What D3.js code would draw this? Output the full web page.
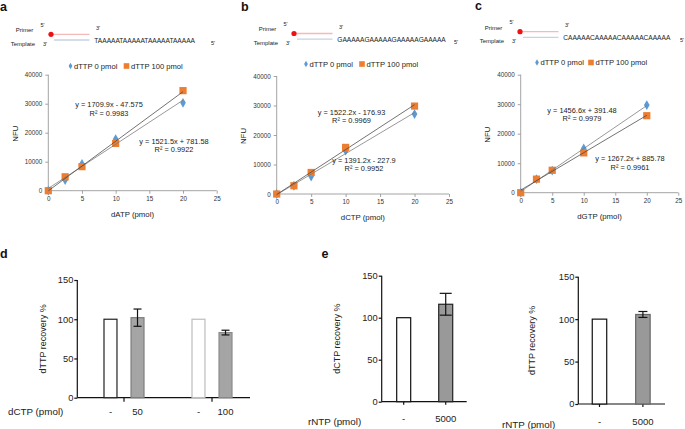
<!DOCTYPE html>
<html><head><meta charset="utf-8">
<script src="https://cdn.jsdelivr.net/npm/d3@7"></script>
<style>
body{margin:0;background:#fff}
svg{display:block}
text{font-family:"Liberation Sans",Arial,Helvetica,sans-serif}
</style>
</head><body>
<svg id="fig" width="685" height="429"></svg>
<script>
// ---------------- DATA ----------------
const panelLetters = ["a", "b", "c", "d", "e"];
const templateSeqs = ["TAAAAATAAAAATAAAAATAAAAA", "GAAAAAGAAAAAGAAAAAGAAAAA", "CAAAAACAAAAACAAAAACAAAAA"];
const scatterX = [0, 2.5, 5, 10, 20];
const seriesNames = ["dTTP 0 pmol", "dTTP 100 pmol"];
const aDTTP0   = [0, 3700, 9200, 17800, 30300];
const aDTTP100 = [0, 4800, 8300, 16300, 34500];
const bDTTP0   = [0, 2800, 5900, 14700, 27100];
const bDTTP100 = [0, 2800, 7300, 15800, 29800];
const cDTTP0   = [0, 4600, 7500, 15000, 29700];
const cDTTP100 = [0, 4600, 7600, 13500, 26100];
const scatterXTitles = ["dATP (pmol)", "dCTP (pmol)", "dGTP (pmol)"];
const scatterYTitle = "NFU";
const scatterXTicks = [0, 5, 10, 15, 20, 25];
const scatterYTicks = [0, 10000, 20000, 30000, 40000];
// trendlines [dTTP 0, dTTP 100]
const aSlopes = [1521.5, 1709.9], aIntercepts = [781.58, -47.575], aEq = ["y = 1521.5x + 781.58", "y = 1709.9x - 47.575"], aR2 = ["R² = 0.9922", "R² = 0.9983"];
const bSlopes = [1391.2, 1522.2], bIntercepts = [-227.9, -176.93], bEq = ["y = 1391.2x - 227.9", "y = 1522.2x - 176.93"], bR2 = ["R² = 0.9952", "R² = 0.9969"];
const cSlopes = [1456.6, 1267.2], cIntercepts = [391.48, 885.78], cEq = ["y = 1456.6x + 391.48", "y = 1267.2x + 885.78"], cR2 = ["R² = 0.9979", "R² = 0.9961"];

const barYTicks = [0, 50, 100, 150];
const dGroups = ["50", "100"];
const dCats = [["-", "50"], ["-", "100"]];
const dValues = [[100, 102], [100, 83]];
const dErrors = [[0, 11], [0, 3]];
const dXTitle = "dCTP (pmol)", dYTitle = "dTTP recovery %";
const eCats = ["-", "5000"];
const eDCTP = [100, 116], eDCTPErr = [0, 13];
const eDTTP = [100, 105.5], eDTTPErr = [0, 3.5];
const eXTitle = "rNTP (pmol)", eYTitles = ["dCTP recovery %", "dTTP recovery %"];

// ---------------- STYLE / LAYOUT ----------------
const BLUE = "#5b9bd5", ORANGE = "#ed7d31";
const svg = d3.select("#fig");

function letter(t, x, y) {
  svg.append("text").attr("x", x).attr("y", y).attr("font-size", 12.5).attr("font-weight", "bold").attr("fill", "#111").text(t);
}

// primer/template schematic
function schematic(seq, ox, oy) {
  const g = svg.append("g").attr("transform", `translate(${ox},${oy})`);
  const t = (x, y, s, fs, anchor) => g.append("text").attr("x", x).attr("y", y).attr("font-size", fs)
      .attr("text-anchor", anchor || "start").attr("fill", "#222").text(s);
  t(33.3, 32.2, "Primer", 6, "end");
  t(35, 45.5, "Template", 6, "end");
  t(40.5, 27, "5'", 5.5);
  t(43, 45.5, "3'", 5.5);
  g.append("line").attr("x1", 51).attr("x2", 89.5).attr("y1", 34.3).attr("y2", 34.3).attr("stroke", "#f6b9b9").attr("stroke-width", 1.3);
  g.append("line").attr("x1", 54).attr("x2", 89.5).attr("y1", 40).attr("y2", 40).attr("stroke", "#c6d3e2").attr("stroke-width", 1.3);
  g.append("circle").attr("cx", 51).attr("cy", 34.3).attr("r", 2.6).attr("fill", "#ee1111");
  t(96, 29.5, "3'", 5.5);
  t(94.3, 43, seq, 6.6);
  t(211, 44.5, "5'", 5.5);
}

function scatterPanel(cfg) {
  const x = d3.scaleLinear().domain([0, 25]).range([cfg.xl, cfg.xr]);
  const y = d3.scaleLinear().domain([0, 40000]).range([cfg.yb, cfg.yt]);
  const g = svg.append("g");
  const ax = g.append("g").attr("transform", `translate(0,${cfg.yb})`)
    .call(d3.axisBottom(x).tickValues(scatterXTicks).tickSize(3).tickPadding(3).tickFormat(d3.format("d")));
  const ay = g.append("g").attr("transform", `translate(${cfg.xl},0)`)
    .call(d3.axisLeft(y).tickValues(scatterYTicks).tickSize(3).tickPadding(3).tickFormat(d3.format("d")));
  [ax, ay].forEach(a => {
    a.select(".domain").attr("stroke", "#9a9a9a").attr("stroke-width", 0.9);
    a.selectAll(".tick line").attr("stroke", "#9a9a9a").attr("stroke-width", 0.9);
    a.selectAll("text").attr("font-size", 6.3).attr("fill", "#333").attr("font-family", '"Liberation Sans",Arial,sans-serif');
  });
  ay.select(".domain").attr("d", `M0,${cfg.yt}V${cfg.yb}`);
  ax.select(".domain").attr("d", `M${cfg.xl},0H${cfg.xr}`);
  g.append("text").attr("x", (cfg.xl + cfg.xr) / 2).attr("y", cfg.yb + 26).attr("text-anchor", "middle")
    .attr("font-size", 7.8).attr("fill", "#222").text(cfg.xTitle);
  g.append("text").attr("transform", `translate(${cfg.xl - 33},${(cfg.yt + cfg.yb) / 2 + 1}) rotate(-90)`)
    .attr("text-anchor", "middle").attr("dy", "0.35em").attr("font-size", 7.8).attr("fill", "#222").text(scatterYTitle);

  const series = [cfg.s0, cfg.s1];
  // markers
  g.selectAll(".d0").data(scatterX.map((v, i) => [v, series[0][i]])).join("path")
    .attr("transform", d => `translate(${x(d[0])},${y(d[1])})`)
    .attr("d", d3.symbol(d3.symbolDiamond, 28)).attr("fill", BLUE);
  g.selectAll(".d1").data(scatterX.map((v, i) => [v, series[1][i]])).join("rect")
    .attr("x", d => x(d[0]) - 3.6).attr("y", d => y(d[1]) - 3.6).attr("width", 7.2).attr("height", 7.2).attr("fill", ORANGE);
  // trendlines
  [0, 1].forEach(k => {
    g.append("line").attr("x1", x(0)).attr("y1", y(cfg.b[k])).attr("x2", x(20)).attr("y2", y(cfg.m[k] * 20 + cfg.b[k]))
      .attr("stroke", k === 0 ? "#777" : "#444").attr("stroke-width", 0.75);
  });
  // equation labels
  [0, 1].forEach(k => {
    const p = cfg.eqPos[k];
    g.append("text").attr("x", p[0]).attr("y", p[1]).attr("text-anchor", "middle").attr("font-size", 7.4).attr("fill", "#222").text(cfg.eq[k]);
    g.append("text").attr("x", p[0]).attr("y", p[1] + 8.5).attr("text-anchor", "middle").attr("font-size", 7.4).attr("fill", "#222").text(cfg.r2[k]);
  });
  // legend
  const ly = cfg.legY;
  g.append("path").attr("transform", `translate(${cfg.leg[0]},${ly})`).attr("d", d3.symbol(d3.symbolDiamond, 12)).attr("fill", BLUE);
  g.append("text").attr("x", cfg.leg[0] + 3.5).attr("y", ly + 2.6).attr("font-size", 7.6).attr("fill", "#222").text(seriesNames[0]);
  g.append("rect").attr("x", cfg.leg[1] - 2.8).attr("y", ly - 2.8).attr("width", 5.6).attr("height", 5.6).attr("fill", ORANGE);
  g.append("text").attr("x", cfg.leg[1] + 4.5).attr("y", ly + 2.6).attr("font-size", 7.6).attr("fill", "#222").text(seriesNames[1]);
}

function styleBarAxis(a) {
  a.select(".domain").attr("stroke", "#111").attr("stroke-width", 1.2);
  a.selectAll(".tick line").attr("stroke", "#111").attr("stroke-width", 1.2);
  a.selectAll("text").attr("font-size", 9.3).attr("fill", "#222").attr("font-family", '"Liberation Sans",Arial,sans-serif');
}

function barYAxis(g, cfg, yTitle) {
  const y = d3.scaleLinear().domain([0, 150]).range([cfg.yb, cfg.yt]);
  const ay = g.append("g").attr("transform", `translate(${cfg.xl},0)`)
    .call(d3.axisLeft(y).tickValues(barYTicks).tickSize(3).tickPadding(1));
  styleBarAxis(ay);
  ay.select(".domain").attr("d", `M0,${cfg.yt}V${cfg.yb}`);
  g.append("text").attr("transform", `translate(${cfg.ylabX},${(cfg.yt + cfg.yb) / 2}) rotate(-90)`)
    .attr("text-anchor", "middle").attr("dy", "0.35em").attr("font-size", 9).attr("fill", "#222").text(yTitle);
  return y;
}

function errBar(g, cx, y, v, e, cap) {
  if (!e) return;
  g.append("line").attr("x1", cx).attr("x2", cx).attr("y1", y(v - e)).attr("y2", y(v + e)).attr("stroke", "#111").attr("stroke-width", 1.2);
  [v - e, v + e].forEach(t => g.append("line").attr("x1", cx - cap / 2).attr("x2", cx + cap / 2).attr("y1", y(t)).attr("y2", y(t)).attr("stroke", "#111").attr("stroke-width", 1.2));
}

// ---------------- PANELS a-c ----------------
letter(panelLetters[0], 0, 10.5);
letter(panelLetters[1], 241, 10.5);
letter(panelLetters[2], 475, 10);
schematic(templateSeqs[0], 0, 0);
schematic(templateSeqs[1], 243, -0.8);
schematic(templateSeqs[2], 469, -2.6);

scatterPanel({xl: 48.3, xr: 216.7, yb: 190.7, yt: 74.7, xTitle: scatterXTitles[0], s0: aDTTP0, s1: aDTTP100,
  m: aSlopes, b: aIntercepts, eq: aEq, r2: aR2, eqPos: [[174, 143.5], [109, 107]], legY: 66, leg: [70.5, 126.5]});
scatterPanel({xl: 276.7, xr: 449, yb: 194, yt: 76, xTitle: scatterXTitles[1], s0: bDTTP0, s1: bDTTP100,
  m: bSlopes, b: bIntercepts, eq: bEq, r2: bR2, eqPos: [[364, 162.5], [351.5, 114.5]], legY: 64, leg: [306, 362]});
scatterPanel({xl: 520.7, xr: 678.3, yb: 192.7, yt: 74.7, xTitle: scatterXTitles[2], s0: cDTTP0, s1: cDTTP100,
  m: cSlopes, b: cIntercepts, eq: cEq, r2: cR2, eqPos: [[582, 112.5], [630, 161]], legY: 62.5, leg: [537, 591]});

// ---------------- PANEL d ----------------
letter(panelLetters[3], 0, 258.3);
(function () {
  const cfg = {xl: 77.3, xr: 250, yb: 397.7, yt: 280, ylabX: 43};
  const g = svg.append("g");
  const y = barYAxis(g, cfg, dYTitle);
  const gx = d3.scaleBand().domain(dGroups).range([80, 256]);
  const ax = g.append("g").attr("transform", `translate(0,${cfg.yb})`)
    .call(d3.axisBottom(gx).tickSize(4).tickFormat(""));
  styleBarAxis(ax);
  ax.select(".domain").attr("d", `M${cfg.xl},0H${cfg.xr}`);
  const inner = d3.scaleBand().domain([0, 1]).range([24, 64]).paddingInner(0.52);
  const fills = ["#ffffff", "#a5a5a5"];
  const strokes = [["#222", "#7d7d7d"], ["#bdbdbd", "#8a8a8a"]];
  dGroups.forEach((grp, gi) => {
    [0, 1].forEach(k => {
      const x0 = gx(grp) + inner(k);
      const v = dValues[gi][k];
      g.append("rect").attr("x", x0).attr("y", y(v)).attr("width", inner.bandwidth()).attr("height", cfg.yb - y(v))
        .attr("fill", fills[k]).attr("stroke", strokes[gi][k]).attr("stroke-width", 1.2);
      errBar(g, x0 + inner.bandwidth() / 2, y, v, dErrors[gi][k], 8);
      g.append("text").attr("x", x0 + inner.bandwidth() / 2).attr("y", 415).attr("text-anchor", "middle")
        .attr("font-size", 9.5).attr("fill", "#222").text(dCats[gi][k]);
    });
  });
  g.append("text").attr("x", 8).attr("y", 415).attr("font-size", 9.8).attr("fill", "#222").text(dXTitle);
})();

// ---------------- PANEL e ----------------
letter(panelLetters[4], 321.5, 258.3);
function ePanel(cfg, vals, errs, yTitle) {
  const g = svg.append("g");
  const y = barYAxis(g, cfg, yTitle);
  const x = d3.scaleBand().domain(eCats).range([cfg.bx0, cfg.bx1]).paddingInner(0.667).paddingOuter(0.333);
  const ax = g.append("g").attr("transform", `translate(0,${cfg.yb})`)
    .call(d3.axisBottom(x).tickSize(3).tickPadding(11));
  styleBarAxis(ax);
  ax.selectAll("text").attr("font-size", 9.5);
  ax.select(".domain").attr("d", `M${cfg.xl},0H${cfg.xr}`);
  eCats.forEach((c, k) => {
    const v = vals[k];
    g.append("rect").attr("x", x(c)).attr("y", y(v)).attr("width", x.bandwidth()).attr("height", cfg.yb - y(v))
      .attr("fill", k ? "#999999" : "#ffffff").attr("stroke", k ? cfg.gs : "#111").attr("stroke-width", 1.2);
    errBar(g, x(c) + x.bandwidth() / 2, y, v, errs[k], cfg.cap);
  });
  g.append("text").attr("x", cfg.tx).attr("y", cfg.yb + 23.5).attr("font-size", 9.8).attr("fill", "#222").text(eXTitle);
}
ePanel({xl: 381.7, xr: 466.7, yb: 401.7, yt: 275.7, ylabX: 337, bx0: 382.7, bx1: 466.7, gs: "#222", cap: 12, tx: 308}, eDCTP, eDCTPErr, eYTitles[0]);
ePanel({xl: 578.3, xr: 665, yb: 404, yt: 276.7, ylabX: 532, bx0: 577.8, bx1: 664.6, gs: "#666", cap: 9, tx: 502}, eDTTP, eDTTPErr, eYTitles[1]);
</script>
</body></html>
